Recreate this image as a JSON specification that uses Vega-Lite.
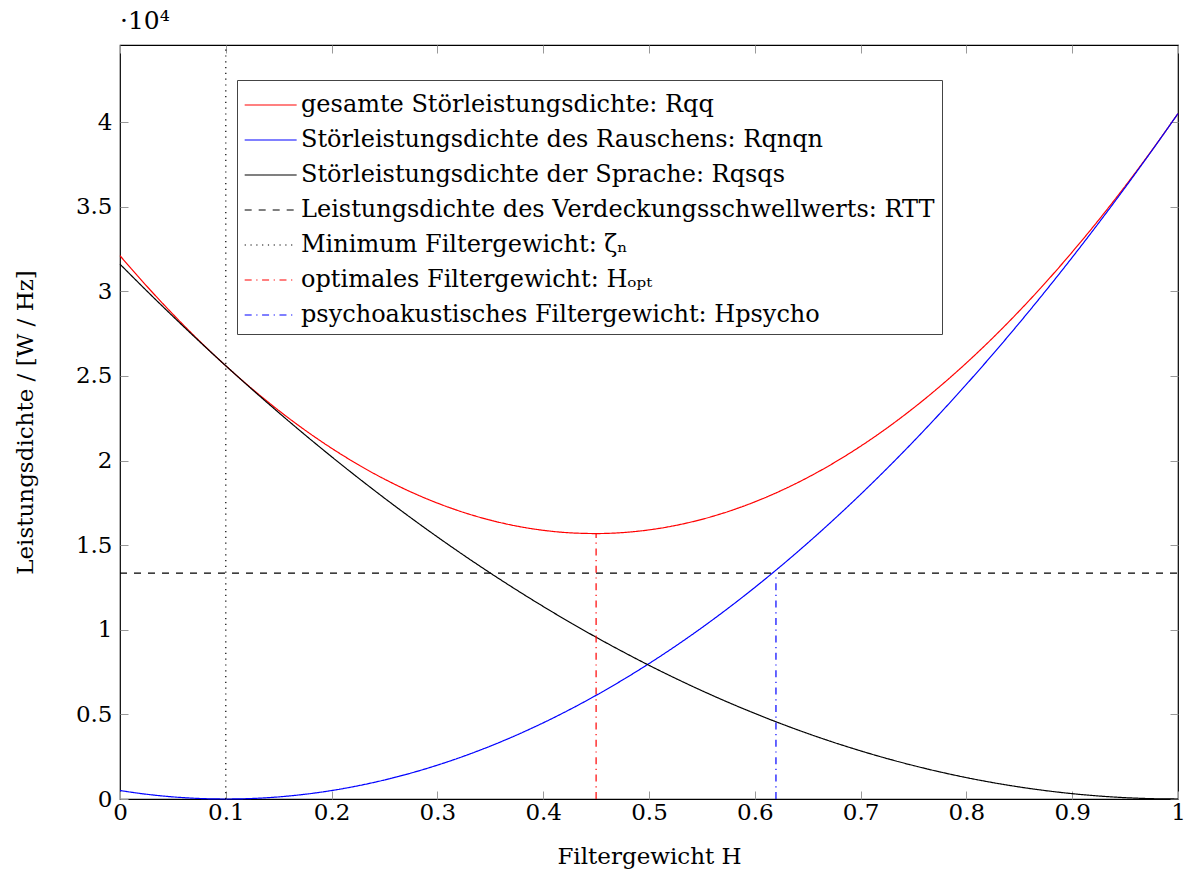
{
  "$schema": "https://vega.github.io/schema/vega-lite/v6.json",
  "width": 1058,
  "height": 754,
  "autosize": {"type": "none"},
  "padding": {"left": 120, "top": 45, "right": 14, "bottom": 83},
  "background": "white",
  "title": {"text": "·10⁴", "anchor": "start", "frame": "group", "font": "DejaVu Serif", "fontSize": 25, "fontWeight": "normal", "color": "black", "offset": 10},
  "config": {
    "view": {"stroke": "black", "strokeWidth": 1.2},
    "axis": {"domain": false, "grid": false, "tickColor": "#999999", "tickWidth": 1, "tickSize": -8, "labelFont": "DejaVu Serif", "labelFontSize": 23, "labelColor": "black", "titleFont": "DejaVu Serif", "titleFontSize": 23, "titleFontWeight": "normal", "titleColor": "black", "labelPadding": 10},
    "legend": {"labelFont": "DejaVu Serif", "labelFontSize": 24, "labelColor": "black"}
  },
  "datasets": {
    "curves": [
      {"H": 0, "series": "gesamt", "value": 32100}, {"H": 0.025, "series": "gesamt", "value": 30321}, {"H": 0.05, "series": "gesamt", "value": 28644}, {"H": 0.075, "series": "gesamt", "value": 27069}, {"H": 0.1, "series": "gesamt", "value": 25596}, {"H": 0.125, "series": "gesamt", "value": 24225}, {"H": 0.15, "series": "gesamt", "value": 22956}, {"H": 0.175, "series": "gesamt", "value": 21789}, {"H": 0.2, "series": "gesamt", "value": 20724}, {"H": 0.225, "series": "gesamt", "value": 19761}, {"H": 0.25, "series": "gesamt", "value": 18900}, {"H": 0.275, "series": "gesamt", "value": 18141}, {"H": 0.3, "series": "gesamt", "value": 17484}, {"H": 0.325, "series": "gesamt", "value": 16929}, {"H": 0.35, "series": "gesamt", "value": 16476}, {"H": 0.375, "series": "gesamt", "value": 16125}, {"H": 0.4, "series": "gesamt", "value": 15876}, {"H": 0.425, "series": "gesamt", "value": 15729}, {"H": 0.45, "series": "gesamt", "value": 15684}, {"H": 0.475, "series": "gesamt", "value": 15741}, {"H": 0.5, "series": "gesamt", "value": 15900}, {"H": 0.525, "series": "gesamt", "value": 16161}, {"H": 0.55, "series": "gesamt", "value": 16524}, {"H": 0.575, "series": "gesamt", "value": 16989}, {"H": 0.6, "series": "gesamt", "value": 17556}, {"H": 0.625, "series": "gesamt", "value": 18225}, {"H": 0.65, "series": "gesamt", "value": 18996}, {"H": 0.675, "series": "gesamt", "value": 19869}, {"H": 0.7, "series": "gesamt", "value": 20844}, {"H": 0.725, "series": "gesamt", "value": 21921}, {"H": 0.75, "series": "gesamt", "value": 23100}, {"H": 0.775, "series": "gesamt", "value": 24381}, {"H": 0.8, "series": "gesamt", "value": 25764}, {"H": 0.825, "series": "gesamt", "value": 27249}, {"H": 0.85, "series": "gesamt", "value": 28836}, {"H": 0.875, "series": "gesamt", "value": 30525}, {"H": 0.9, "series": "gesamt", "value": 32316}, {"H": 0.925, "series": "gesamt", "value": 34209}, {"H": 0.95, "series": "gesamt", "value": 36204}, {"H": 0.975, "series": "gesamt", "value": 38301}, {"H": 1, "series": "gesamt", "value": 40500},
      {"H": 0, "series": "rauschen", "value": 500}, {"H": 0.025, "series": "rauschen", "value": 281}, {"H": 0.05, "series": "rauschen", "value": 125}, {"H": 0.075, "series": "rauschen", "value": 31}, {"H": 0.1, "series": "rauschen", "value": 0}, {"H": 0.125, "series": "rauschen", "value": 31}, {"H": 0.15, "series": "rauschen", "value": 125}, {"H": 0.175, "series": "rauschen", "value": 281}, {"H": 0.2, "series": "rauschen", "value": 500}, {"H": 0.225, "series": "rauschen", "value": 781}, {"H": 0.25, "series": "rauschen", "value": 1125}, {"H": 0.275, "series": "rauschen", "value": 1531}, {"H": 0.3, "series": "rauschen", "value": 2000}, {"H": 0.325, "series": "rauschen", "value": 2531}, {"H": 0.35, "series": "rauschen", "value": 3125}, {"H": 0.375, "series": "rauschen", "value": 3781}, {"H": 0.4, "series": "rauschen", "value": 4500}, {"H": 0.425, "series": "rauschen", "value": 5281}, {"H": 0.45, "series": "rauschen", "value": 6125}, {"H": 0.475, "series": "rauschen", "value": 7031}, {"H": 0.5, "series": "rauschen", "value": 8000}, {"H": 0.525, "series": "rauschen", "value": 9031}, {"H": 0.55, "series": "rauschen", "value": 10125}, {"H": 0.575, "series": "rauschen", "value": 11281}, {"H": 0.6, "series": "rauschen", "value": 12500}, {"H": 0.625, "series": "rauschen", "value": 13781}, {"H": 0.65, "series": "rauschen", "value": 15125}, {"H": 0.675, "series": "rauschen", "value": 16531}, {"H": 0.7, "series": "rauschen", "value": 18000}, {"H": 0.725, "series": "rauschen", "value": 19531}, {"H": 0.75, "series": "rauschen", "value": 21125}, {"H": 0.775, "series": "rauschen", "value": 22781}, {"H": 0.8, "series": "rauschen", "value": 24500}, {"H": 0.825, "series": "rauschen", "value": 26281}, {"H": 0.85, "series": "rauschen", "value": 28125}, {"H": 0.875, "series": "rauschen", "value": 30031}, {"H": 0.9, "series": "rauschen", "value": 32000}, {"H": 0.925, "series": "rauschen", "value": 34031}, {"H": 0.95, "series": "rauschen", "value": 36125}, {"H": 0.975, "series": "rauschen", "value": 38281}, {"H": 1, "series": "rauschen", "value": 40500},
      {"H": 0, "series": "sprache", "value": 31600}, {"H": 0.025, "series": "sprache", "value": 30040}, {"H": 0.05, "series": "sprache", "value": 28519}, {"H": 0.075, "series": "sprache", "value": 27038}, {"H": 0.1, "series": "sprache", "value": 25596}, {"H": 0.125, "series": "sprache", "value": 24194}, {"H": 0.15, "series": "sprache", "value": 22831}, {"H": 0.175, "series": "sprache", "value": 21508}, {"H": 0.2, "series": "sprache", "value": 20224}, {"H": 0.225, "series": "sprache", "value": 18980}, {"H": 0.25, "series": "sprache", "value": 17775}, {"H": 0.275, "series": "sprache", "value": 16610}, {"H": 0.3, "series": "sprache", "value": 15484}, {"H": 0.325, "series": "sprache", "value": 14398}, {"H": 0.35, "series": "sprache", "value": 13351}, {"H": 0.375, "series": "sprache", "value": 12344}, {"H": 0.4, "series": "sprache", "value": 11376}, {"H": 0.425, "series": "sprache", "value": 10448}, {"H": 0.45, "series": "sprache", "value": 9559}, {"H": 0.475, "series": "sprache", "value": 8710}, {"H": 0.5, "series": "sprache", "value": 7900}, {"H": 0.525, "series": "sprache", "value": 7130}, {"H": 0.55, "series": "sprache", "value": 6399}, {"H": 0.575, "series": "sprache", "value": 5708}, {"H": 0.6, "series": "sprache", "value": 5056}, {"H": 0.625, "series": "sprache", "value": 4444}, {"H": 0.65, "series": "sprache", "value": 3871}, {"H": 0.675, "series": "sprache", "value": 3338}, {"H": 0.7, "series": "sprache", "value": 2844}, {"H": 0.725, "series": "sprache", "value": 2390}, {"H": 0.75, "series": "sprache", "value": 1975}, {"H": 0.775, "series": "sprache", "value": 1600}, {"H": 0.8, "series": "sprache", "value": 1264}, {"H": 0.825, "series": "sprache", "value": 968}, {"H": 0.85, "series": "sprache", "value": 711}, {"H": 0.875, "series": "sprache", "value": 494}, {"H": 0.9, "series": "sprache", "value": 316}, {"H": 0.925, "series": "sprache", "value": 178}, {"H": 0.95, "series": "sprache", "value": 79}, {"H": 0.975, "series": "sprache", "value": 20}, {"H": 1, "series": "sprache", "value": 0}
    ],
    "rules": [
      {"series": "rtt", "x": 0, "x2": 1, "y": 13350, "y2": 13350},
      {"series": "zeta", "x": 0.1, "x2": 0.1, "y": 0, "y2": 44550},
      {"series": "hopt", "x": 0.45, "x2": 0.45, "y": 0, "y2": 15680},
      {"series": "hpsycho", "x": 0.62, "x2": 0.62, "y": 0, "y2": 13350}
    ]
  },
  "layer": [
    {
      "data": {"name": "curves"},
      "mark": {"type": "line", "strokeWidth": 1.2, "interpolate": "monotone"},
      "encoding": {
        "x": {"field": "H", "type": "quantitative", "scale": {"domain": [0, 1], "nice": false}, "axis": {"orient": "bottom", "values": [0, 0.1, 0.2, 0.3, 0.4, 0.5, 0.6, 0.7, 0.8, 0.9, 1], "labelExpr": "'' + datum.value", "title": "Filtergewicht H", "titlePadding": 21, "labelFlush": false, "labelOverlap": false}},
        "y": {"field": "value", "type": "quantitative", "scale": {"domain": [0, 44550], "nice": false, "zero": true}, "axis": {"orient": "left", "values": [0, 5000, 10000, 15000, 20000, 25000, 30000, 35000, 40000], "labelExpr": "'' + (datum.value / 10000)", "title": "Leistungsdichte / [W / Hz]", "titlePadding": 38, "labelPadding": 16, "labelFlush": false, "labelOverlap": false}},
        "color": {"field": "series", "type": "nominal", "sort": null,
          "scale": {"domain": ["gesamt", "rauschen", "sprache", "rtt", "zeta", "hopt", "hpsycho"], "range": ["#ff0000", "#0000ff", "#000000", "#000000", "#000000", "#ff0000", "#0000ff"]},
          "legend": {"title": null, "orient": "none", "legendX": 117, "legendY": 35, "symbolType": "M-1,0H2", "symbolSize": 1200, "symbolStrokeWidth": 1.2, "symbolFillColor": "transparent", "strokeColor": "#444444", "fillColor": "white", "padding": 7, "rowPadding": 5, "labelLimit": 0, "labelOffset": 21,
            "labelExpr": "{'gesamt': 'gesamte Störleistungsdichte: Rqq', 'rauschen': 'Störleistungsdichte des Rauschens: Rqnqn', 'sprache': 'Störleistungsdichte der Sprache: Rqsqs', 'rtt': 'Leistungsdichte des Verdeckungsschwellwerts: RTT', 'zeta': 'Minimum Filtergewicht: ζₙ', 'hopt': 'optimales Filtergewicht: Hₒₚₜ', 'hpsycho': 'psychoakustisches Filtergewicht: Hpsycho'}[datum.value]"}},
        "strokeDash": {"field": "series", "type": "nominal", "sort": null,
          "scale": {"domain": ["gesamt", "rauschen", "sprache", "rtt", "zeta", "hopt", "hpsycho"], "range": [[1, 0], [1, 0], [1, 0], [7, 7], [1.2, 4.6], [7, 4.6, 1.2, 4.6], [7, 4.6, 1.2, 4.6]]},
          "legend": null}
      }
    },
    {
      "data": {"name": "rules"},
      "mark": {"type": "rule", "strokeWidth": 1.2},
      "encoding": {
        "x": {"field": "x", "type": "quantitative", "axis": {"orient": "top", "values": [0, 0.1, 0.2, 0.3, 0.4, 0.5, 0.6, 0.7, 0.8, 0.9, 1], "labels": false, "title": null}},
        "x2": {"field": "x2"},
        "y": {"field": "y", "type": "quantitative", "axis": {"orient": "right", "values": [0, 5000, 10000, 15000, 20000, 25000, 30000, 35000, 40000], "labels": false, "title": null}},
        "y2": {"field": "y2"},
        "color": {"field": "series", "type": "nominal", "sort": null},
        "strokeDash": {"field": "series", "type": "nominal", "sort": null}
      }
    }
  ],
  "resolve": {"axis": {"x": "independent", "y": "independent"}}
}
